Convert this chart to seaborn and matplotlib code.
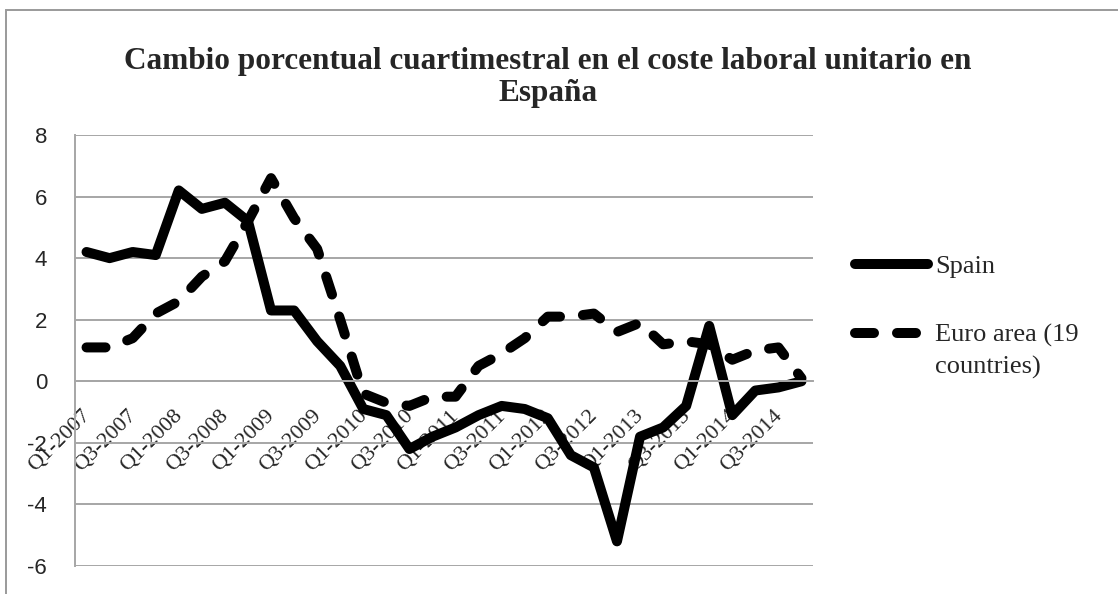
import pandas as pd
import numpy as np
import matplotlib.pyplot as plt
import seaborn as sns
from matplotlib.patches import Rectangle
from matplotlib.transforms import ScaledTranslation

# Datos trimestrales (cambio % del coste laboral unitario)
quarters = [f"Q{q}-{y}" for y in range(2007, 2015) for q in range(1, 5)]
spain = [4.2, 4.0, 4.2, 4.1, 6.2, 5.6, 5.8, 5.2,
         2.3, 2.3, 1.3, 0.5, -0.9, -1.1, -2.2, -1.8,
         -1.5, -1.1, -0.8, -0.9, -1.2, -2.4, -2.8, -5.2,
         -1.8, -1.5, -0.8, 1.8, -1.1, -0.3, -0.2, 0.0]
euro = [1.1, 1.1, 1.4, 2.2, 2.6, 3.4, 3.9, 5.2,
        6.6, 5.3, 4.3, 2.0, -0.4, -0.7, -0.8, -0.5,
        -0.5, 0.5, 0.9, 1.4, 2.1, 2.1, 2.2, 1.6,
        1.9, 1.2, 1.3, 1.2, 0.7, 1.0, 1.1, 0.1]
series_names = ["Spain", "Euro area (19"]
euro_label_rest = "countries)"
title = "Cambio porcentual cuartimestral en el coste laboral unitario en\nEspaña"
y_ticks = [-6, -4, -2, 0, 2, 4, 6, 8]

df = pd.DataFrame({"quarter": quarters * 2,
                   "valor": spain + euro,
                   "serie": [series_names[0]] * len(quarters) + [series_names[1]] * len(quarters)})

sns.set_style("white")
plt.rcParams["font.family"] = ["Liberation Serif", "DejaVu Serif"]

fig = plt.figure(figsize=(11.18, 5.94), dpi=100)
ax = fig.add_axes([75 / 1118, 1 - 566 / 594, (813 - 75) / 1118, (566 - 135) / 594])

sns.lineplot(data=df, x="quarter", y="valor", hue="serie", style="serie",
             palette=["black", "black"], dashes=["", (1.9, 2.3)],
             linewidth=7.2, sort=False, ax=ax)

for ln in ax.get_lines():
    ln.set_dash_capstyle("round")
    ln.set_solid_capstyle("round")
    ln.set_solid_joinstyle("round")

grid_c = "#A6A6A6"
ax.set_ylim(-6, 8)
ax.set_yticks(y_ticks)
ax.set_yticklabels([str(v) for v in y_ticks], family="Liberation Sans", fontsize=16)
ax.yaxis.grid(True, color=grid_c, linewidth=1.4)
ax.tick_params(axis="y", length=8, color=grid_c, width=1.4, pad=12)

ax.set_xlim(-0.5, len(quarters) - 0.5)
ax.set_xticks(range(0, len(quarters), 2))
ax.set_xticks(np.arange(-0.5, len(quarters), 1), minor=True)
ax.set_xticklabels(quarters[::2])
ax.tick_params(axis="x", which="major", length=0, pad=23, labelsize=16, labelrotation=45)
ax.tick_params(axis="x", which="minor", length=7, color=grid_c, width=1.4, direction="out")
ax.set_xlabel("")
ax.set_ylabel("")

for s in ["top", "right"]:
    ax.spines[s].set_visible(False)
ax.spines["left"].set_color(grid_c)
ax.spines["left"].set_linewidth(1.4)
ax.spines["bottom"].set_position(("data", 0))
ax.spines["bottom"].set_color(grid_c)
ax.spines["bottom"].set_linewidth(1.4)

leg = ax.legend(loc="upper left", bbox_to_anchor=(855 / 1118, 1 - 255 / 594),
                bbox_transform=fig.transFigure, frameon=False, fontsize=19,
                handlelength=2.75, handletextpad=0.3, labelspacing=1.7,
                borderpad=0, borderaxespad=0)

fig.text(0.49, 1 - 47 / 594, title, ha="center", va="top", fontsize=22.5,
         fontweight="bold", linespacing=1.15)

fig.patches.append(Rectangle((6 / 1118, -0.05), 1.2, 1 - 10 / 594 + 0.05,
                             transform=fig.transFigure, fill=False,
                             edgecolor="#9A9A9A", linewidth=1.4))

shift = ScaledTranslation(1 / 100, 0, fig.dpi_scale_trans)
for lbl in ax.get_xticklabels():
    lbl.set_horizontalalignment("right")
    lbl.set_verticalalignment("center")
    lbl.set_rotation_mode("anchor")
    lbl.set_transform(lbl.get_transform() + shift)

# segunda línea de la etiqueta "Euro area (19 countries)"
fig.canvas.draw()
ext = leg.get_texts()[1].get_window_extent()
fig.text(ext.x0 / 1118, (ext.y0 - 32 + 6) / 594, euro_label_rest,
         fontsize=19, ha="left", va="baseline")

plt.savefig("out.png", dpi=100)
plt.close()
